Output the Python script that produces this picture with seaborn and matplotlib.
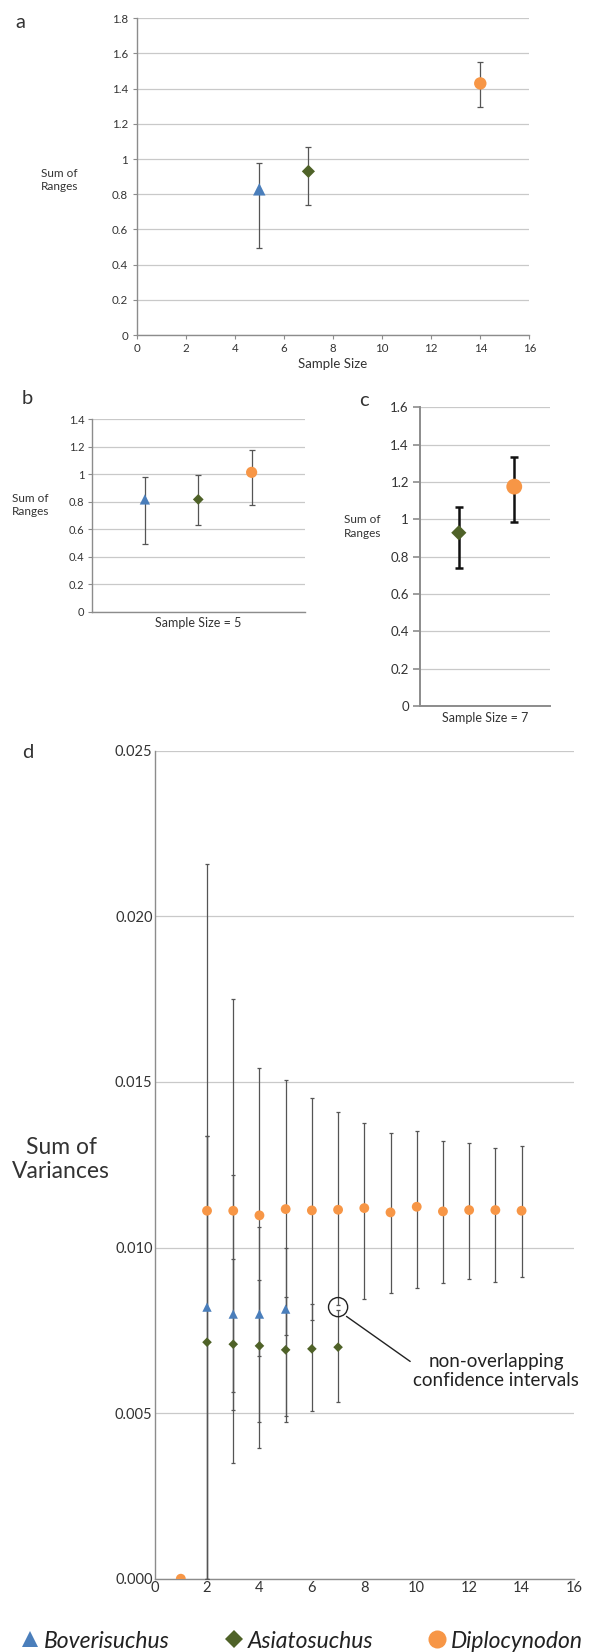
import numpy as np
import pandas as pd
import matplotlib
matplotlib.use("Agg")
import matplotlib.pyplot as plt
import seaborn as sns
from matplotlib.ticker import FuncFormatter, MultipleLocator
from matplotlib.lines import Line2D

# ---------------- data ----------------
species = ["Boverisuchus", "Asiatosuchus", "Diplocynodon"]
colors = {"Boverisuchus": "#4a7ebb", "Asiatosuchus": "#4f6228", "Diplocynodon": "#f79646"}
markers = {"Boverisuchus": "^", "Asiatosuchus": "D", "Diplocynodon": "o"}

# panel a: sum of ranges vs sample size
a_species = ["Boverisuchus", "Asiatosuchus", "Diplocynodon"]
a_x = [5, 7, 14]
a_y = [0.828, 0.930, 1.430]
a_hi = [0.979, 1.068, 1.549]
a_lo = [0.493, 0.740, 1.297]

# panel b: sample size = 5
b_species = ["Boverisuchus", "Asiatosuchus", "Diplocynodon"]
b_y = [0.817, 0.817, 1.014]
b_hi = [0.980, 0.992, 1.174]
b_lo = [0.492, 0.628, 0.778]

# panel c: sample size = 7
c_species = ["Asiatosuchus", "Diplocynodon"]
c_y = [0.928, 1.175]
c_hi = [1.064, 1.334]
c_lo = [0.737, 0.984]

# panel d: sum of variances vs sample size
d_bov_x = [1, 2, 3, 4, 5]
d_bov = [0.0, 0.00820, 0.00799, 0.00799, 0.00814]
d_bov_hi = [0.0, 0.01337, 0.01220, 0.01063, 0.01000]
d_bov_lo = [0.0, 0.0, 0.00350, 0.00395, 0.00492]

d_asi_x = [2, 3, 4, 5, 6, 7]
d_asi = [0.00714, 0.00708, 0.00703, 0.00691, 0.00694, 0.00699]
d_asi_hi = [0.01337, 0.00965, 0.00903, 0.00851, 0.00829, 0.00811]
d_asi_lo = [0.0, 0.00563, 0.00473, 0.00474, 0.00507, 0.00535]

d_dip_x = [1, 2, 3, 4, 5, 6, 7, 8, 9, 10, 11, 12, 13, 14]
d_dip = [0.0, 0.01111, 0.01111, 0.01097, 0.01116, 0.01112, 0.01114, 0.01119,
         0.01106, 0.01123, 0.01109, 0.01113, 0.01113, 0.01111]
d_dip_hi = [0.0, 0.02159, 0.01751, 0.01542, 0.01507, 0.01451, 0.01409, 0.01377,
            0.01345, 0.01353, 0.01322, 0.01317, 0.01301, 0.01305]
d_dip_lo = [0.0, 0.0, 0.00510, 0.00671, 0.00736, 0.00780, 0.00826, 0.00845,
            0.00862, 0.00877, 0.00892, 0.00905, 0.00897, 0.00911]

# ---------------- style ----------------
sns.set_theme(style="white")
plt.rcParams["font.family"] = ["Lato", "DejaVu Sans"]
TXT = "#333333"
SPINE = "#8c8c8c"
GRID = "#c9c9c9"
ERR = "#555555"

fig = plt.figure(figsize=(5.98, 16.52), dpi=100)
W, H = 598.0, 1652.0


def add_ax(left, right, top, bottom):
    return fig.add_axes([left / W, 1 - bottom / H, (right - left) / W, (bottom - top) / H])


def style_ax(ax, lw=1.0):
    for s in ["top", "right"]:
        ax.spines[s].set_visible(False)
    for s in ["left", "bottom"]:
        ax.spines[s].set_color(SPINE)
        ax.spines[s].set_linewidth(lw)
    ax.yaxis.grid(True, color=GRID, linewidth=0.9)
    ax.xaxis.grid(False)
    ax.set_axisbelow(True)
    ax.set_facecolor("white")


gfmt = FuncFormatter(lambda v, p: f"{v:g}")


def draw_points(ax, xs, ys, sp, sizes, zorder=4):
    df = pd.DataFrame({"x": xs, "y": ys, "species": sp})
    sns.scatterplot(data=df, x="x", y="y", hue="species", style="species",
                    palette=colors, markers=markers, hue_order=species,
                    style_order=species, size="species", sizes=sizes,
                    size_order=species, legend=False, ax=ax, zorder=zorder,
                    edgecolor="none", linewidth=0)


def draw_err(ax, xs, ys, lo, hi, color=ERR, lw=0.9, capsize=2.0, capthick=None):
    ys = np.asarray(ys); lo = np.asarray(lo); hi = np.asarray(hi)
    ax.errorbar(xs, ys, yerr=[ys - lo, hi - ys], fmt="none", ecolor=color,
                elinewidth=lw, capsize=capsize, capthick=capthick if capthick else lw,
                zorder=3)


# ---------------- panel a ----------------
axa = add_ax(136.5, 529.4, 18.3, 335)
style_ax(axa)
for i in range(3):
    draw_err(axa, [a_x[i]], [a_y[i]], [a_lo[i]], [a_hi[i]], capsize=2.2)
draw_points(axa, a_x, a_y, a_species,
            {"Boverisuchus": 80, "Asiatosuchus": 45, "Diplocynodon": 80})
axa.set_xlim(0, 16)
axa.set_ylim(0, 1.8)
axa.xaxis.set_major_locator(MultipleLocator(2))
axa.yaxis.set_major_locator(MultipleLocator(0.2))
axa.yaxis.set_major_formatter(gfmt)
axa.tick_params(axis="both", labelsize=8.3, colors=TXT, length=3, width=0.8,
                direction="out", bottom=True, left=True, pad=3)
axa.tick_params(axis="both", color=SPINE)
axa.set_xlabel("Sample Size", fontsize=9.5, color=TXT, labelpad=3)
axa.set_ylabel("Sum of\nRanges", fontsize=8.5, color=TXT, rotation=0,
               ha="center", va="center", linespacing=1.3)
axa.yaxis.set_label_coords(-0.197, 0.489)

# ---------------- panel b ----------------
axb = add_ax(91.5, 305, 419.3, 611.7)
style_ax(axb)
b_pos = [1, 2, 3]
for i in range(3):
    draw_err(axb, [b_pos[i]], [b_y[i]], [b_lo[i]], [b_hi[i]], capsize=2.0)
draw_points(axb, b_pos, b_y, b_species,
            {"Boverisuchus": 55, "Asiatosuchus": 30, "Diplocynodon": 65})
axb.set_xlim(0, 4)
axb.set_ylim(0, 1.4)
axb.yaxis.set_major_locator(MultipleLocator(0.2))
axb.yaxis.set_major_formatter(gfmt)
axb.set_xticks([])
axb.tick_params(axis="y", labelsize=8, colors=TXT, length=3, width=0.8,
                direction="out", left=True, pad=2)
axb.tick_params(axis="y", color=SPINE)
axb.set_xlabel("Sample Size = 5", fontsize=9, color=TXT, labelpad=4)
axb.set_ylabel("Sum of\nRanges", fontsize=8.5, color=TXT, rotation=0,
               ha="center", va="center", linespacing=1.3)
axb.yaxis.set_label_coords(-0.286, 0.555)

# ---------------- panel c ----------------
axc = add_ax(420, 550.3, 407.3, 706)
style_ax(axc, lw=1.4)
c_pos = [0, 1]
for i in range(2):
    draw_err(axc, [c_pos[i]], [c_y[i]], [c_lo[i]], [c_hi[i]], color="#111111",
             lw=1.8, capsize=3.0, capthick=1.8)
draw_points(axc, c_pos, c_y, c_species,
            {"Boverisuchus": 80, "Asiatosuchus": 60, "Diplocynodon": 130})
axc.set_xlim(-0.7, 1.65)
axc.set_ylim(0, 1.6)
axc.yaxis.set_major_locator(MultipleLocator(0.2))
axc.yaxis.set_major_formatter(gfmt)
axc.set_xticks([])
axc.tick_params(axis="y", labelsize=9.5, colors=TXT, length=5, width=1.2,
                direction="out", left=True, pad=3)
axc.tick_params(axis="y", color=SPINE)
axc.set_xlabel("Sample Size = 7", fontsize=9, color=TXT, labelpad=4)
axc.set_ylabel("Sum of\nRanges", fontsize=8.5, color=TXT, rotation=0,
               ha="center", va="center", linespacing=1.3)
axc.yaxis.set_label_coords(-0.443, 0.600)

# ---------------- panel d ----------------
axd = add_ax(154.6, 574.0, 750.7, 1578.7)
style_ax(axd)
draw_err(axd, d_dip_x[1:], d_dip[1:], d_dip_lo[1:], d_dip_hi[1:], lw=0.9, capsize=1.5)
draw_err(axd, d_bov_x[1:], d_bov[1:], d_bov_lo[1:], d_bov_hi[1:], lw=0.9, capsize=1.5)
draw_err(axd, d_asi_x, d_asi, d_asi_lo, d_asi_hi, lw=0.9, capsize=1.5)
d_sizes = {"Boverisuchus": 45, "Asiatosuchus": 24, "Diplocynodon": 50}
draw_points(axd, d_bov_x, d_bov, ["Boverisuchus"] * len(d_bov_x), d_sizes)
draw_points(axd, d_asi_x, d_asi, ["Asiatosuchus"] * len(d_asi_x), d_sizes)
draw_points(axd, d_dip_x, d_dip, ["Diplocynodon"] * len(d_dip_x), d_sizes)
axd.set_xlim(0, 16)
axd.set_ylim(0, 0.025)
axd.xaxis.set_major_locator(MultipleLocator(2))
axd.yaxis.set_major_locator(MultipleLocator(0.005))
axd.yaxis.set_major_formatter(FuncFormatter(lambda v, p: f"{v:.3f}"))
axd.tick_params(axis="both", labelsize=10.5, colors=TXT, length=0, pad=1.5)
axd.set_xlabel("")
axd.set_ylabel("Sum of\nVariances", fontsize=16.5, color=TXT, rotation=0,
               ha="center", va="center", linespacing=1.2)
axd.yaxis.set_label_coords(-0.223, 0.506)

# annotation: non-overlapping confidence intervals
axd.scatter([7], [0.0082], s=190, facecolors="none", edgecolors="#222222",
            linewidths=1.0, zorder=5)
axd.plot([7.32, 9.75], [0.00792, 0.00656], color="#222222", lw=1.0, zorder=5,
         clip_on=False)
axd.text(13.02, 0.00627, "non-overlapping\nconfidence intervals", fontsize=13.5,
         color="#222222", ha="center", va="center", linespacing=1.15, clip_on=False)

# ---------------- panel letters ----------------
for lab, x, y in [("a", 20, 22), ("b", 27.5, 398), ("c", 364, 400), ("d", 27.5, 753)]:
    fig.text(x / W, 1 - y / H, lab, fontsize=14.5, color=TXT, ha="center", va="center")

# ---------------- legend ----------------
handles = [Line2D([], [], linestyle="none", marker=markers[s], color=colors[s],
                  markersize={"Boverisuchus": 12, "Asiatosuchus": 9.5, "Diplocynodon": 13}[s],
                  markeredgewidth=0)
           for s in species]
fig.legend(handles, species, loc="center", bbox_to_anchor=(0.503, 1 - 1641 / H),
           ncol=3, frameon=False, handletextpad=0.1, columnspacing=2.3,
           handlelength=1.0, prop={"style": "italic", "size": 16.5}, labelcolor="#222222")

fig.savefig("out.png", dpi=100, facecolor="white")
